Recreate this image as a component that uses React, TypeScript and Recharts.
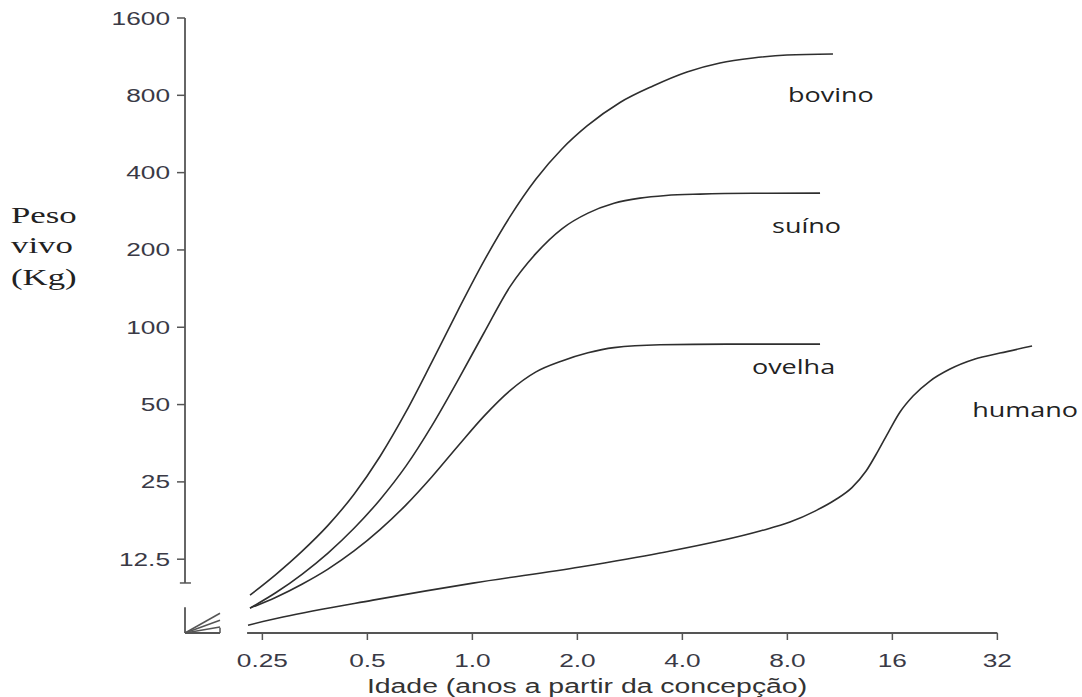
import { LineChart, Line, XAxis, YAxis, ReferenceLine, ReferenceDot, Label } from 'recharts';

// ticks (log2 axes)
const xTicks = [0.25, 0.5, 1, 2, 4, 8, 16, 32];
const xTickLabels = ['0.25', '0.5', '1.0', '2.0', '4.0', '8.0', '16', '32'];
const yTicks = [12.5, 25, 50, 100, 200, 400, 800, 1600];
const yTickLabels = ['12.5', '25', '50', '100', '200', '400', '800', '1600'];

// curves: idade (anos) / peso vivo (kg)
const bovinoIdade = [0.2304, 0.2736, 0.3246, 0.3855, 0.4579, 0.5434, 0.6455, 0.7657, 0.9095, 1.08, 1.282, 1.522, 1.806, 2.132, 2.65, 3.294, 4.124, 5.127, 6.377, 7.98, 10.81];
const bovinoPeso = [9.06, 10.92, 13.41, 16.93, 22.39, 31.4, 46.9, 73.3, 116.4, 181.3, 269.5, 377.7, 494.3, 607.7, 750.2, 869.6, 986, 1069, 1118, 1148, 1158];

const suinoIdade = [0.2304, 0.2736, 0.3246, 0.3855, 0.4579, 0.5434, 0.6455, 0.7657, 0.9095, 1.08, 1.282, 1.522, 1.806, 2.145, 2.547, 3.023, 3.59, 4.494, 6.377, 9.925];
const suinoPeso = [8.06, 9.27, 10.92, 13.21, 16.49, 21.32, 28.86, 41.42, 62.3, 95.2, 143.9, 193.9, 241.8, 278.2, 303.9, 318.3, 325.9, 330, 332.5, 333];

const ovelhaIdade = [0.2304, 0.2736, 0.3246, 0.3855, 0.4579, 0.5434, 0.6455, 0.7657, 0.9095, 1.08, 1.282, 1.522, 1.806, 2.145, 2.547, 3.451, 5.371, 9.925];
const ovelhaPeso = [8.06, 8.89, 9.99, 11.44, 13.46, 16.3, 20.34, 26.17, 34.47, 45.07, 56.65, 67.0, 73.9, 79.5, 83.3, 85.5, 86, 86];

const humanoIdade = [0.2274, 0.2864, 0.5187, 1.004, 2.035, 3.451, 6.677, 8.14, 9.6, 10.95, 12.25, 13.45, 14.55, 15.65, 16.83, 18.34, 20.51, 23.41, 27.61, 32.56, 40.23];
const humanoPeso = [6.92, 7.44, 8.66, 10.09, 11.65, 13.21, 16.09, 17.44, 19.24, 21.25, 23.75, 27.55, 32.94, 39.43, 46.75, 53.97, 61.74, 68.74, 75.23, 79.34, 84.5];

// curve names and where their labels sit (idade, peso)
const serieNomes = ['bovino', 'suíno', 'ovelha', 'humano'];
const rotuloIdade = [8.03, 7.23, 6.33, 27.1];
const rotuloPeso = [753, 233, 66, 44.6];

// axis extents and the broken-axis mark near the origin
const xDomain = [0.15, 42.4];
const yDomain = [6.45, 1600];
const xAxisSpan = [0.226, 32];
const yAxisSpan = [10.1, 1600];
const breakTop = 8.13;
const breakEnd = 0.189;
const breakRays = [7.7, 7.23, 6.8];

const toPoints = (idade: number[], peso: number[]) => idade.map((a, i) => ({ idade: a, peso: peso[i] }));

const series = [
  toPoints(bovinoIdade, bovinoPeso),
  toPoints(suinoIdade, suinoPeso),
  toPoints(ovelhaIdade, ovelhaPeso),
  toPoints(humanoIdade, humanoPeso),
];

const INK = '#2e2e2e';
const AXIS = '#555';
const SANS = '"Liberation Sans", Arial, sans-serif';
const STRETCH = 1.42;

function YTick({ x, y, payload }: any) {
  const label = yTickLabels[yTicks.indexOf(payload.value)];
  return (
    <g transform={`translate(${x},${y})`}>
      <text transform={`scale(${STRETCH},1)`} textAnchor="end" dy={6.5} fontFamily={SANS} fontSize={18.5} fill="#3a3a46">
        {label}
      </text>
    </g>
  );
}

function XTick({ x, y, payload }: any) {
  const label = xTickLabels[xTicks.indexOf(payload.value)];
  return (
    <g transform={`translate(${x},${y})`}>
      <text transform={`scale(${STRETCH},1)`} textAnchor="middle" dy={25} fontFamily={SANS} fontSize={18.5} fill="#3a3a46">
        {label}
      </text>
    </g>
  );
}

function curveLabel(name: string) {
  return (p: any) => (
    <g transform={`translate(${p.cx},${p.cy})`}>
      <text transform="scale(1.35,1)" fontFamily='"Open Sans", sans-serif' fontSize={20} fill="#222">
        {name}
      </text>
    </g>
  );
}

const yTitle = () => (
  <g transform="translate(11,0)">
    <g transform="scale(1.45,1)" fontFamily='"Liberation Serif", "Times New Roman", serif' fontSize={24} fill="#222">
      <text x={0} y={223}>Peso</text>
      <text x={0} y={253}>vivo</text>
      <text x={0} y={285}>(Kg)</text>
    </g>
  </g>
);

const xTitle = () => (
  <g transform="translate(587,693)">
    <text transform={`scale(${STRETCH},1)`} textAnchor="middle" fontFamily={SANS} fontSize={20} fill="#333">
      Idade (anos a partir da concepção)
    </text>
  </g>
);

export default function App() {
  return (
    <div style={{ position: 'absolute', left: 0, top: 0, width: 1082, height: 697, background: '#fff' }}>
      <LineChart width={1082} height={697} margin={{ top: 18, right: 42, bottom: 0, left: 0 }}>
        <XAxis
          dataKey="idade"
          type="number"
          scale="log"
          domain={xDomain}
          allowDataOverflow
          ticks={xTicks}
          tick={<XTick />}
          tickSize={7}
          tickMargin={2}
          tickLine={{ stroke: AXIS, strokeWidth: 1.5 }}
          axisLine={false}
          height={64}
          interval={0}
        >
          <Label content={xTitle} />
        </XAxis>
        <YAxis
          dataKey="peso"
          type="number"
          scale="log"
          domain={yDomain}
          allowDataOverflow
          ticks={yTicks}
          tick={<YTick />}
          tickSize={8}
          tickMargin={7}
          tickLine={{ stroke: AXIS, strokeWidth: 1.5 }}
          axisLine={false}
          width={185}
          interval={0}
        >
          <Label content={yTitle} />
        </YAxis>

        {/* axis lines, drawn only over their real extent */}
        <ReferenceLine segment={[{ x: xAxisSpan[0], y: yDomain[0] }, { x: xAxisSpan[1], y: yDomain[0] }]} stroke={AXIS} strokeWidth={1.8} ifOverflow="visible" />
        <ReferenceLine segment={[{ x: xDomain[0], y: yAxisSpan[0] }, { x: xDomain[0], y: yAxisSpan[1] }]} stroke="#666" strokeWidth={2} ifOverflow="visible" />
        <ReferenceLine segment={[{ x: 0.145, y: yAxisSpan[0] }, { x: 0.156, y: yAxisSpan[0] }]} stroke={AXIS} strokeWidth={1.5} ifOverflow="visible" />

        {/* broken-axis mark */}
        <ReferenceLine segment={[{ x: xDomain[0], y: yDomain[0] }, { x: xDomain[0], y: breakTop }]} stroke={AXIS} strokeWidth={1.8} ifOverflow="visible" />
        <ReferenceLine segment={[{ x: xDomain[0], y: yDomain[0] }, { x: breakEnd, y: yDomain[0] }]} stroke={AXIS} strokeWidth={1.8} ifOverflow="visible" />
        <ReferenceLine segment={[{ x: breakEnd, y: yDomain[0] }, { x: breakEnd, y: 6.76 }]} stroke={AXIS} strokeWidth={1.5} ifOverflow="visible" />
        {breakRays.map((v) => (
          <ReferenceLine key={v} segment={[{ x: xDomain[0], y: yDomain[0] }, { x: breakEnd, y: v }]} stroke={AXIS} strokeWidth={1.5} ifOverflow="visible" />
        ))}

        {series.map((data, i) => (
          <Line
            key={serieNomes[i]}
            data={data}
            dataKey="peso"
            type="monotone"
            stroke={INK}
            strokeWidth={1.6}
            dot={false}
            activeDot={false}
            isAnimationActive={false}
          />
        ))}

        {serieNomes.map((name, i) => (
          <ReferenceDot key={name} x={rotuloIdade[i]} y={rotuloPeso[i]} r={0} ifOverflow="visible" shape={curveLabel(name)} />
        ))}
      </LineChart>
    </div>
  );
}
